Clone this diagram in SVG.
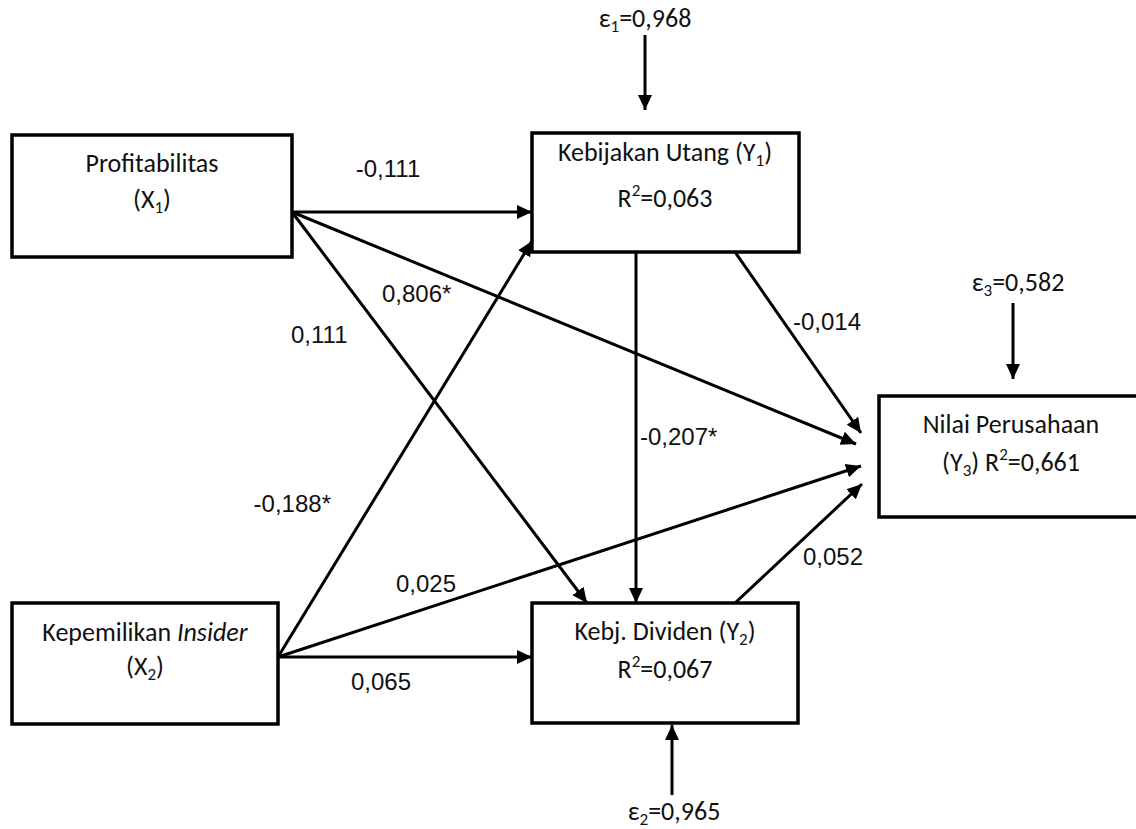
<svg xmlns="http://www.w3.org/2000/svg" width="1136" height="829" viewBox="0 0 1136 829">
<style>
.box{fill:#fff;stroke:#000;stroke-width:3.5}
.bt{font-family:Carlito,Lato,"Liberation Sans",sans-serif;font-size:26px;fill:#111;text-anchor:middle}
.lb{font-family:"Liberation Sans",Arial,sans-serif;font-size:24px;fill:#111}
.ln{stroke:#000;stroke-width:3;fill:none;marker-end:url(#ah)}
</style>
<defs>
<marker id="ah" markerUnits="userSpaceOnUse" markerWidth="16" markerHeight="16" viewBox="0 0 16 16" refX="15" refY="8" orient="auto">
<path d="M0,1 L15,8 L0,15 z" fill="#000"/>
</marker>
</defs>
<rect width="1136" height="829" fill="#fff"/>
<g id="connectors">
<line class="ln" x1="292" y1="212" x2="532" y2="212"/>
<line class="ln" x1="292" y1="212" x2="856" y2="444"/>
<line class="ln" x1="292" y1="212" x2="587" y2="603"/>
<line class="ln" x1="278" y1="657" x2="532" y2="241"/>
<line class="ln" x1="278" y1="657" x2="861" y2="466"/>
<line class="ln" x1="278" y1="657" x2="532" y2="657"/>
<line class="ln" x1="636" y1="252" x2="636" y2="603"/>
<line class="ln" x1="735" y1="252" x2="861" y2="433"/>
<line class="ln" x1="735" y1="603" x2="862" y2="484"/>
<line class="ln" x1="645" y1="35" x2="645" y2="110"/>
<line class="ln" x1="1013" y1="303" x2="1013" y2="379"/>
<line class="ln" x1="672" y1="795" x2="672" y2="725"/>
<text class="lb" x="388" y="177" text-anchor="middle">-0,111</text>
<text class="lb" x="382" y="302">0,806*</text>
<text class="lb" x="291" y="343">0,111</text>
<text class="lb" x="331" y="512" text-anchor="end">-0,188*</text>
<text class="lb" x="396" y="592">0,025</text>
<text class="lb" x="351" y="690">0,065</text>
<text class="lb" x="640" y="445">-0,207*</text>
<text class="lb" x="793" y="330">-0,014</text>
<text class="lb" x="803" y="565">0,052</text>
<text class="bt" x="645" y="27">ε<tspan font-size="17" dy="5">1</tspan><tspan dy="-5">=0,968</tspan></text>
<text class="bt" x="1018" y="291">ε<tspan font-size="17" dy="5">3</tspan><tspan dy="-5">=0,582</tspan></text>
<text class="bt" x="674" y="820">ε<tspan font-size="17" dy="5">2</tspan><tspan dy="-5">=0,965</tspan></text>
</g>
<g id="x1">
<rect class="box" x="12" y="135" width="280" height="122"/>
<text class="bt" x="152" y="172">Profitabilitas</text>
<text class="bt" x="152" y="208">(X<tspan font-size="17" dy="5">1</tspan><tspan dy="-5">)</tspan></text>
</g>
<g id="y1">
<rect class="box" x="532" y="133" width="267" height="119"/>
<text class="bt" x="665" y="161">Kebijakan Utang (Y<tspan font-size="17" dy="5">1</tspan><tspan dy="-5">)</tspan></text>
<text class="bt" x="665" y="207">R<tspan font-size="17" dy="-11">2</tspan><tspan dy="11">=0,063</tspan></text>
</g>
<g id="y3">
<rect class="box" x="879" y="396" width="266" height="121"/>
<text class="bt" x="1011" y="433">Nilai Perusahaan</text>
<text class="bt" x="1011" y="471">(Y<tspan font-size="17" dy="5">3</tspan><tspan dy="-5">) R</tspan><tspan font-size="17" dy="-11">2</tspan><tspan dy="11">=0,661</tspan></text>
</g>
<g id="x2">
<rect class="box" x="12" y="603" width="266" height="121"/>
<text class="bt" x="145" y="641">Kepemilikan <tspan font-style="italic">Insider</tspan></text>
<text class="bt" x="145" y="675">(X<tspan font-size="17" dy="5">2</tspan><tspan dy="-5">)</tspan></text>
</g>
<g id="y2">
<rect class="box" x="532" y="603" width="266" height="120"/>
<text class="bt" x="665" y="640">Kebj. Dividen (Y<tspan font-size="17" dy="5">2</tspan><tspan dy="-5">)</tspan></text>
<text class="bt" x="665" y="678">R<tspan font-size="17" dy="-11">2</tspan><tspan dy="11">=0,067</tspan></text>
</g>
</svg>
